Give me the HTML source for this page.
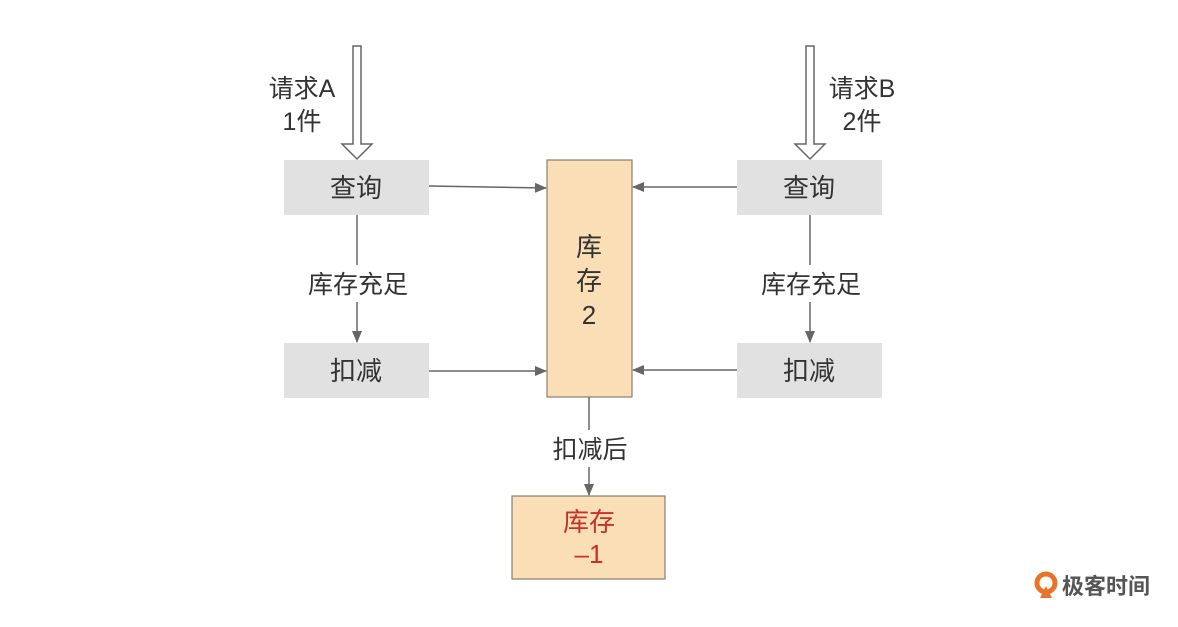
<!DOCTYPE html>
<html><head><meta charset="utf-8"><style>
body{margin:0;background:#fff;}
svg text{font-family:"Liberation Sans","Noto Sans CJK SC",sans-serif;fill:#333;}
</style></head><body>
<svg width="1178" height="622" viewBox="0 0 1178 622" xmlns="http://www.w3.org/2000/svg">
<defs><marker id="a" markerWidth="12" markerHeight="10" refX="11" refY="5" orient="auto" markerUnits="userSpaceOnUse"><path d="M0,0 L12,5 L0,10 z" fill="#666"/></marker></defs>
<rect width="1178" height="622" fill="#fff"/>
<path d="M353,46 H361 V144 H372 L357,159 L342,144 H353 Z" fill="#fff" stroke="#666" stroke-width="1.5"/>
<path d="M806,46 H814 V144 H825 L810,159 L795,144 H806 Z" fill="#fff" stroke="#666" stroke-width="1.5"/>
<text x="302" y="97" font-size="25" text-anchor="middle">请求A</text>
<text x="302" y="130" font-size="25" text-anchor="middle">1件</text>
<text x="862" y="97" font-size="25" text-anchor="middle">请求B</text>
<text x="862" y="130" font-size="25" text-anchor="middle">2件</text>
<rect x="284" y="160" width="145" height="55" fill="#e1e1e1"/>
<rect x="284" y="343" width="145" height="55" fill="#e1e1e1"/>
<rect x="737" y="160" width="145" height="55" fill="#e1e1e1"/>
<rect x="737" y="343" width="145" height="55" fill="#e1e1e1"/>
<text x="356" y="197" font-size="26" text-anchor="middle">查询</text>
<text x="356" y="380" font-size="26" text-anchor="middle">扣减</text>
<text x="809" y="197" font-size="26" text-anchor="middle">查询</text>
<text x="809" y="380" font-size="26" text-anchor="middle">扣减</text>
<rect x="547" y="160" width="85" height="237" fill="#f9deb6" stroke="#8a7e6e" stroke-width="1.2"/>
<text x="589" y="256" font-size="26" text-anchor="middle">库</text>
<text x="589" y="290" font-size="26" text-anchor="middle">存</text>
<text x="589" y="324" font-size="26" text-anchor="middle">2</text>
<rect x="512" y="496" width="153" height="83" fill="#f9deb6" stroke="#8a7e6e" stroke-width="1.2"/>
<text x="589" y="531" font-size="26" text-anchor="middle" style="fill:#c8302a">库存</text>
<text x="589" y="563" font-size="26" text-anchor="middle" style="fill:#c8302a">–1</text>
<g stroke="#666" stroke-width="1.5" fill="none">
<line x1="357" y1="215" x2="357" y2="265"/>
<line x1="357" y1="302" x2="357" y2="342" marker-end="url(#a)"/>
<line x1="810" y1="215" x2="810" y2="265"/>
<line x1="810" y1="302" x2="810" y2="342" marker-end="url(#a)"/>
<line x1="589" y1="397" x2="589" y2="430"/>
<line x1="589" y1="467" x2="589" y2="495" marker-end="url(#a)"/>
<line x1="429" y1="186" x2="546" y2="188" marker-end="url(#a)"/>
<line x1="737" y1="187" x2="633" y2="187" marker-end="url(#a)"/>
<line x1="429" y1="371" x2="546" y2="371" marker-end="url(#a)"/>
<line x1="737" y1="370" x2="633" y2="370" marker-end="url(#a)"/>
</g>
<text x="358" y="293" font-size="25" text-anchor="middle">库存充足</text>
<text x="811" y="293" font-size="25" text-anchor="middle">库存充足</text>
<text x="590" y="458" font-size="25" text-anchor="middle">扣减后</text>
<circle cx="1046" cy="583" r="9" fill="none" stroke="#e8742a" stroke-width="5"/>
<path d="M1046,586 L1040,598 L1052,598 Z" fill="#e8742a"/>
<text x="1062" y="594" font-size="22" font-weight="bold" style="fill:#555">极客时间</text>
</svg>
</body></html>
